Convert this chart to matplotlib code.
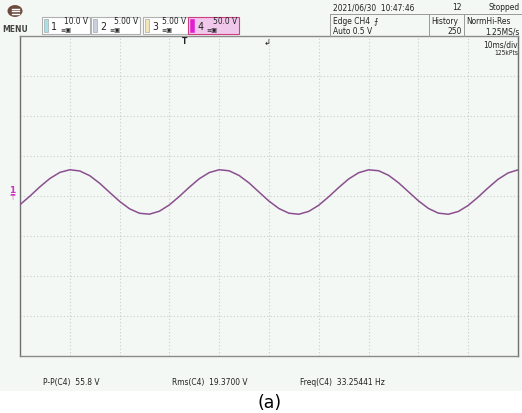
import numpy as np
import matplotlib
matplotlib.use("Agg")
import matplotlib.pyplot as plt
from matplotlib.patches import Rectangle, Circle
from matplotlib import font_manager as fm

W, H = 522, 414

time_ms = [0, 2, 4, 6, 8, 10, 12, 14, 16, 18, 20, 22, 24, 26, 28, 30, 32, 34, 36, 38,
           40, 42, 44, 46, 48, 50, 52, 54, 56, 58, 60, 62, 64, 66, 68, 70, 72, 74, 76, 78,
           80, 82, 84, 86, 88, 90, 92, 94, 96, 98, 100]
ch4_volts = [-15.8, -5.1, 6.5, 16.9, 24.5, 27.8, 26.3, 20.4, 10.9, -0.5,
             -11.7, -21.0, -26.6, -27.7, -24.0, -16.1, -5.5, 6.0, 16.6, 24.3,
             27.8, 26.5, 20.6, 11.3, -0.1, -11.4, -20.7, -26.5, -27.8, -24.2,
             -16.5, -5.9, 5.6, 16.3, 24.1, 27.7, 26.6, 20.9, 11.6, 0.3,
             -11.0, -20.5, -26.4, -27.8, -24.4, -16.8, -6.3, 5.2, 15.9, 23.8, 27.7]

channel_labels = ["1", "2", "3", "4"]
channel_scales = ["10.0 V", "5.00 V", "5.00 V", "50.0 V"]
measure_labels = ["P-P(C4)  55.8 V", "Rms(C4)  19.3700 V", "Freq(C4)  33.25441 Hz"]
date_text = "2021/06/30  10:47:46"

BG = '#f3f8f5'
WAVE = '#8b4f8e'
TXT = '#222222'

# ---- pick a narrow font for the scope texts ----
prop_base = None
for f in fm.fontManager.ttflist:
    if f.name == 'Liberation Sans Narrow' and f.style == 'normal' and f.weight in (400, 'normal', 'regular'):
        prop_base = fm.FontProperties(fname=f.fname)
        break
if prop_base is None:
    for f in fm.fontManager.ttflist:
        if (f.stretch in ('condensed', 'semi-condensed', 'extra-condensed', 'ultra-condensed')
                and f.style == 'normal' and f.weight in (400, 'normal', 'regular')):
            prop_base = fm.FontProperties(fname=f.fname)
            break
if prop_base is None:
    prop_base = fm.FontProperties(family='DejaVu Sans')

fig = plt.figure(figsize=(W / 100, H / 100), dpi=100, facecolor=BG)
renderer = fig.canvas.get_renderer()

# size so that the date string spans ~80 px like on the scope
_p = prop_base.copy()
_p.set_size(10)
_t = fig.text(0, 0, date_text, fontproperties=_p)
_w = _t.get_window_extent(renderer).width
_t.remove()
fs = max(5.0, min(8.0, 10 * 82.0 / _w))


def fx(x):
    return x / W


def fy(y):
    return 1 - y / H


def st(x, y, s, ha='left', scale=1.0, color=TXT):
    p = prop_base.copy()
    p.set_size(fs * scale)
    return fig.text(fx(x), fy(y), s, ha=ha, va='center', fontproperties=p, color=color)


# white strip below the scope screen
fig.patches.append(Rectangle((0, 0), 1, (H - 392) / H, transform=fig.transFigure,
                             facecolor='white', edgecolor='none', zorder=-5))

ax = fig.add_axes([fx(20), fy(357), 498 / W, 320 / H])
ax.set_facecolor(BG)
ax.plot(time_ms, ch4_volts, color=WAVE, lw=1.1, zorder=3)
ax.set_xlim(0, 100)
ax.set_ylim(-205, 195)
ax.set_xticks(np.arange(0, 101, 10))
ax.set_yticks(np.arange(-205, 196, 50))
ax.grid(True, color='#c9cecc', lw=0.8, linestyle=(0, (1, 2)))
ax.tick_params(length=0, labelbottom=False, labelleft=False)
for s in ax.spines.values():
    s.set_color('#8a8a8a')
    s.set_linewidth(1.0)
ax.spines['left'].set_color('#707070')
ax.spines['right'].set_color('#707070')

# MENU button
fig.patches.append(Circle((fx(15), fy(12)), 7.5 / W, transform=fig.transFigure,
                          facecolor='#6e4a3c', edgecolor='none'))
for dy in (-2.5, 0, 2.5):
    fig.lines.append(plt.Line2D([fx(11.5), fx(18.5)], [fy(12 + dy), fy(12 + dy)],
                                transform=fig.transFigure, color='white', lw=1.0))
fig.text(fx(15), fy(29), "MENU", ha='center', va='center', fontsize=5.5,
         fontweight='bold', color='#444444', family='DejaVu Sans')

# channel boxes
box_x = [42, 91, 143, 188]
box_w = [48, 49, 45, 51]
bar_col = ['#a8e0e8', '#c8d0e0', '#f0e6b8', '#e020d0']
for i in range(4):
    x0 = box_x[i]
    face = '#f0c8ec' if i == 3 else '#ffffff'
    edge = '#d04080' if i == 3 else '#b0b0b0'
    fig.patches.append(Rectangle((fx(x0), fy(35)), box_w[i] / W, 17 / H,
                                 transform=fig.transFigure, facecolor=face,
                                 edgecolor=edge, lw=0.8))
    fig.patches.append(Rectangle((fx(x0 + 2), fy(33)), 4 / W, 13 / H,
                                 transform=fig.transFigure, facecolor=bar_col[i],
                                 edgecolor='#999999' if i < 3 else bar_col[i], lw=0.4))
    st(x0 + 12, 27, channel_labels[i], ha='center', scale=1.25)
    st(x0 + box_w[i] - 2, 21, channel_scales[i], ha='right')
    fig.text(fx(x0 + 18), fy(30.5), "\u2261\u25a3", ha='left', va='center',
             fontsize=4.5, color=TXT, family='DejaVu Sans')

# right header
st(333, 8, date_text)
st(462, 8, "12", ha='right')
st(520, 8, "Stopped", ha='right')
edge_t = st(333, 21, "Edge CH4")
_ex = edge_t.get_window_extent(renderer).x1
fig.text(fx(_ex + 3), fy(21), "\u2a0d", ha='left', va='center', fontsize=6, color=TXT,
         family='DejaVu Sans')
st(333, 32, "Auto 0.5 V")
st(431, 21, "History")
st(462, 32, "250", ha='right')
st(466, 21, "NormHi-Res")
st(520, 32, "1.25MS/s", ha='right')
fig.lines.append(plt.Line2D([fx(330), fx(522)], [fy(15), fy(15)], transform=fig.transFigure,
                            color='#9a9a9a', lw=0.7))
for xv in (330, 429, 464):
    fig.lines.append(plt.Line2D([fx(xv), fx(xv)], [fy(15), fy(37)], transform=fig.transFigure,
                                color='#9a9a9a', lw=0.7))

st(518, 45, "10ms/div", ha='right')
st(518, 53, "125kPts", ha='right', scale=0.8)

# trigger markers
fig.text(fx(185), fy(41), "T", ha='center', va='center', fontsize=5.5, color=TXT,
         fontweight='bold', family='DejaVu Sans')
fig.text(fx(267), fy(43), "\u21b2", ha='center', va='center', fontsize=6, color=TXT,
         family='DejaVu Sans')
# ground marker for channel 4
fig.text(fx(12), fy(190), "1\u0332", ha='center', va='center', fontsize=6.5, color='#d030c0',
         fontweight='bold', family='DejaVu Sans')
fig.text(fx(12), fy(198), "\u22a4", ha='center', va='center', fontsize=5, color='#d030c0',
         family='DejaVu Sans')

# measurements
meas_x = [43, 172, 300]
for x, lab in zip(meas_x, measure_labels):
    st(x, 383, lab)

fig.text(fx(270), fy(403), "(a)", ha='center', va='center', fontsize=12.5, color='black',
         family='DejaVu Sans')

fig.savefig("out.png", dpi=100, facecolor=BG)
